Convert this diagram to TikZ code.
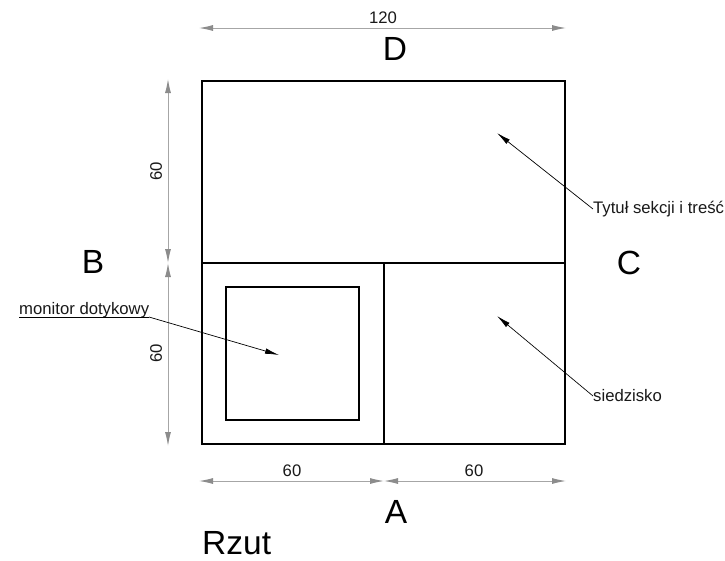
\documentclass[tikz,border=0pt]{standalone}
\usepackage{fontspec}
\setmainfont{Liberation Sans}
\usetikzlibrary{arrows.meta}
\tikzset{
  heavy/.style={draw=black,line width=1.7pt,line cap=rect},
  thin box/.style={draw=black,line width=1.3pt},
  dim/.style={draw=black!35,line width=1pt,{Latex[length=14pt,width=6pt,color=black!45]}-{Latex[length=14pt,width=6pt,color=black!45]}},
  leader/.style={draw=black,line width=0.7pt,-{Latex[length=14pt,width=5.5pt]}},
  big/.style={font=\fontsize{33.5}{34}\selectfont,inner sep=0pt,text=black},
  small/.style={font=\fontsize{16.7}{17}\selectfont,inner sep=0pt,text=black!90},
}
\begin{document}
\begin{tikzpicture}[x=1pt,y=-1pt]
\useasboundingbox (0,0) rectangle (725,560);
\fill[white] (0,0) rectangle (725,560);
\coordinate (tl) at (202,81);
\coordinate (tr) at (565,81);
\coordinate (ml) at (202,263);
\coordinate (mr) at (565,263);
\coordinate (mm) at (384,263);
\coordinate (bl) at (202,444);
\coordinate (bm) at (384,444);
\coordinate (br) at (565,444);
\draw[heavy] (tl) -- (tr) -- (br) -- (bl) -- cycle;
\draw[heavy] (ml) -- (mr);
\draw[heavy] (mm) -- (bm);
\draw[thin box] (226,287) rectangle (359,420);
% dimensions
\coordinate (d1) at (199,28);
\coordinate (d2) at (566,28);
\draw[dim] (d1) -- (d2);
\node[small] (t120) at (383,17.3) {120};
\coordinate (v1) at (168,79);
\coordinate (v2) at (168,263);
\coordinate (v3) at (168,446);
\draw[dim] (v1) -- (v2);
\draw[dim] (v2) -- (v3);
\node[small,rotate=90] (t60a) at (156,171) {60};
\node[small,rotate=90] (t60b) at (156,353) {60};
\coordinate (h1) at (199,481);
\coordinate (h2) at (384,481);
\coordinate (h3) at (566,481);
\draw[dim] (h1) -- (h2);
\draw[dim] (h2) -- (h3);
\node[small] (t60c) at (292,470.8) {60};
\node[small] (t60d) at (474,470.8) {60};
% letters
\node[big] (A) at (396,512) {A};
\node[big] (B) at (93,262) {B};
\node[big] (C) at (629,263) {C};
\node[big] (D) at (395,49) {D};
\node[big,anchor=base west] (R) at (202,554) {Rzut};
% leaders
\node[small,anchor=base west] (mon) at (19,314.6) {monitor dotykowy};
\coordinate (m1) at (19,317);
\coordinate (m2) at (149,317);
\coordinate (m3) at (279,355);
\draw[draw=black,line width=0.7pt] (m1) -- (m2);
\draw[leader] (m2) -- (m3);
\node[small,anchor=west] (tyt) at (593,209) {Tytuł sekcji i treść};
\coordinate (t1) at (497,133);
\draw[leader] (tyt.west) -- (t1);
\node[small,anchor=west] (sie) at (593,396) {siedzisko};
\coordinate (s1) at (497,316);
\draw[leader] (sie.west) -- (s1);
\end{tikzpicture}
\end{document}
